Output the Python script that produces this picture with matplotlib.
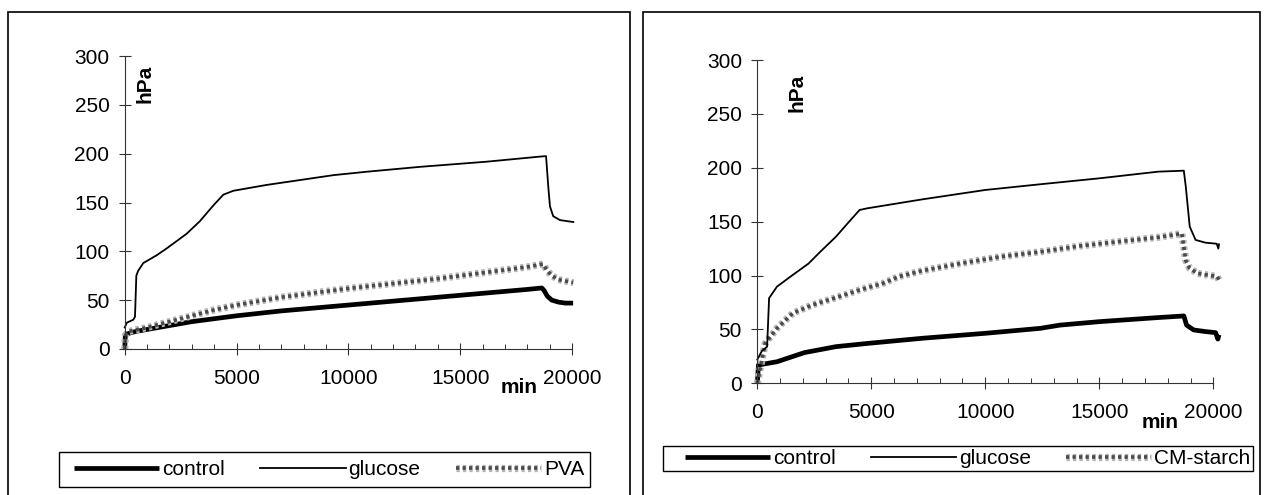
import matplotlib
matplotlib.use("Agg")
import matplotlib.pyplot as plt
import matplotlib.patheffects as pe
from matplotlib.patches import Rectangle
from matplotlib.ticker import MultipleLocator

plt.rcParams['font.family'] = ['Liberation Sans', 'DejaVu Sans']

# ---- data (min, hPa) ----
left_control_t = [0, 30, 500, 1000, 2000, 3000, 4000, 5000, 6000, 7000, 8000, 9000, 10000,
                  11000, 12000, 13000, 14000, 15000, 16000, 17000, 18000, 18650, 18750,
                  18900, 19100, 19400, 19700, 20050]
left_control_v = [0, 15, 18, 20, 24, 28, 31, 34, 36.5, 39, 41, 43, 45, 47, 49, 51, 53, 55,
                  57, 59, 61, 62.5, 60, 54, 50, 48, 47, 47]

left_glucose_t = [0, 100, 385, 460, 520, 600, 833, 1430, 1878, 2770, 3367, 3963, 4410, 4856,
                  6350, 7840, 9330, 10820, 13200, 16190, 18570, 18840, 18940, 19015, 19160,
                  19460, 20060]
left_glucose_v = [22, 27, 30, 33, 75, 80, 88, 96, 103, 118, 131, 147, 158, 162, 168, 173, 178,
                  181.5, 186.5, 191.8, 197, 197.5, 166, 146, 136, 132, 130]

left_pva_t = [0, 30, 200, 1000, 2000, 3000, 4000, 5000, 6000, 7000, 8000, 9000, 10000, 11000,
              12000, 13000, 14000, 15000, 16000, 17000, 18000, 18700, 18900, 19100, 19400, 20050]
left_pva_v = [0, 14, 18, 22, 28, 34, 40, 45, 49, 53, 56, 59, 62, 64.5, 67, 69.5, 72, 75, 78,
              81, 84, 87, 80, 75, 71, 68]

right_control_t = [0, 50, 862, 2069, 3448, 4828, 7241, 10000, 12414, 13276, 15000, 17586,
                   18707, 18828, 19138, 19655, 20100, 20200, 20250]
right_control_v = [0, 17, 20, 28.5, 34, 37, 41.8, 46.4, 51, 54, 57.2, 61, 62.5, 54, 49.5, 48,
                   47, 41, 45]

right_glucose_t = [0, 200, 431, 517, 862, 1552, 2241, 2759, 3448, 3966, 4483, 4828, 7241,
                   10000, 12414, 15000, 17586, 18707, 18793, 18966, 19224, 19655, 20150,
                   20220, 20250]
right_glucose_v = [22, 30, 34, 79, 89.7, 100.5, 111, 122, 136, 148.5, 160.8, 162.4, 170.7,
                   179.4, 184.7, 190.2, 196.4, 197.3, 182.5, 145.4, 133, 130.5, 129.5, 125, 129]

right_cm_t = [0, 345, 862, 1552, 2414, 3448, 4483, 5517, 6207, 7241, 8966, 10690, 12414,
              14138, 15862, 17586, 18620, 18793, 18966, 19310, 20172, 20250]
right_cm_v = [0, 37, 51, 65, 72.7, 79.5, 86.6, 92.8, 99, 104.5, 111.4, 117.5, 122, 127.4,
              131.5, 135.5, 139, 114, 106.7, 102, 99, 96]

W, H = 1264, 495
fig = plt.figure(figsize=(W / 100, H / 100), dpi=100)


def fx(px):
    return px / W


def fy(py):
    return 1 - py / H


def frame(x0, y0, x1, y1, lw):
    fig.patches.append(Rectangle((fx(x0), fy(y1)), (x1 - x0) / W, (y1 - y0) / H,
                                 transform=fig.transFigure, fill=False, lw=lw,
                                 edgecolor='black'))


FS = 15
# rope-like texture for the third series
rope = [pe.Stroke(linewidth=5.2, foreground='#b4b4b4'), pe.Normal()]


def panel(box, ax_px, hpa_xy, leg_box, leg_inner, t1, v1, t2, v2, t3, v3, name3):
    bx0, by0, bx1 = box
    frame(bx0, by0, bx1, H + 10, 1.2)

    x0, y0, x1, ytop = ax_px
    ax = fig.add_axes([fx(x0), fy(y0), (x1 - x0) / W, (y0 - ytop) / H])
    ax.set_xlim(0, 20000)
    ax.set_ylim(0, 300)
    for s in ['top', 'right']:
        ax.spines[s].set_visible(False)
    for s in ['left', 'bottom']:
        ax.spines[s].set_linewidth(0.8)
        ax.spines[s].set_color('#333333')
    ax.xaxis.set_major_locator(MultipleLocator(5000))
    ax.xaxis.set_minor_locator(MultipleLocator(1000))
    ax.yaxis.set_major_locator(MultipleLocator(50))
    ax.tick_params(axis='x', which='major', direction='inout', length=8, width=0.8,
                   labelsize=FS, pad=10.5, color='#333333')
    ax.tick_params(axis='x', which='minor', direction='in', length=3.5, width=0.7,
                   color='#333333')
    ax.tick_params(axis='y', which='major', direction='inout', length=8, width=0.8,
                   labelsize=FS, pad=7, color='#333333')
    ax.patch.set_alpha(0)

    l1, = ax.plot(t1, v1, color='black', lw=3.4, clip_on=False, solid_capstyle='butt')
    l3, = ax.plot(t3, v3, color='#4a4a4a', lw=2.6, dashes=(0.9, 0.9), clip_on=False,
                  path_effects=rope)
    l2, = ax.plot(t2, v2, color='black', lw=1.3, clip_on=False)

    ax.annotate('min', xy=(17650, 0), xycoords=('data', 'axes fraction'),
                xytext=(0, -28), textcoords='offset points', ha='center', va='center',
                fontsize=FS, fontweight='bold')
    fig.text(fx(hpa_xy[0]), fy(hpa_xy[1]), 'hPa', rotation=90, ha='center', va='center',
             fontsize=FS, fontweight='bold')

    # legend: drawn frame + unframed legend spread across the inner width
    lx0, ly0, lx1, ly1 = leg_box
    frame(lx0, ly0, lx1, ly1, 1.0)
    ix0, ix1 = leg_inner
    fig.legend([l1, l2, l3], ['control', 'glucose', name3], loc='center',
               bbox_to_anchor=(fx(ix0), fy(ly1), (ix1 - ix0) / W, (ly1 - ly0) / H),
               mode='expand', ncol=3, fontsize=FS, frameon=False, borderpad=0,
               handlelength=4.1, handletextpad=0.12, borderaxespad=0)
    return ax


panel((8, 12, 630), (124.7, 349, 572, 56), (145, 83.5), (59, 452, 590, 487), (74, 584),
      left_control_t, left_control_v, left_glucose_t, left_glucose_v,
      left_pva_t, left_pva_v, 'PVA')
panel((642.7, 12, 1260), (757.3, 383.3, 1213.3, 60), (797, 92.5), (663, 446, 1253, 471),
      (685, 1250),
      right_control_t, right_control_v, right_glucose_t, right_glucose_v,
      right_cm_t, right_cm_v, 'CM-starch')

fig.savefig('out.png', dpi=100)
